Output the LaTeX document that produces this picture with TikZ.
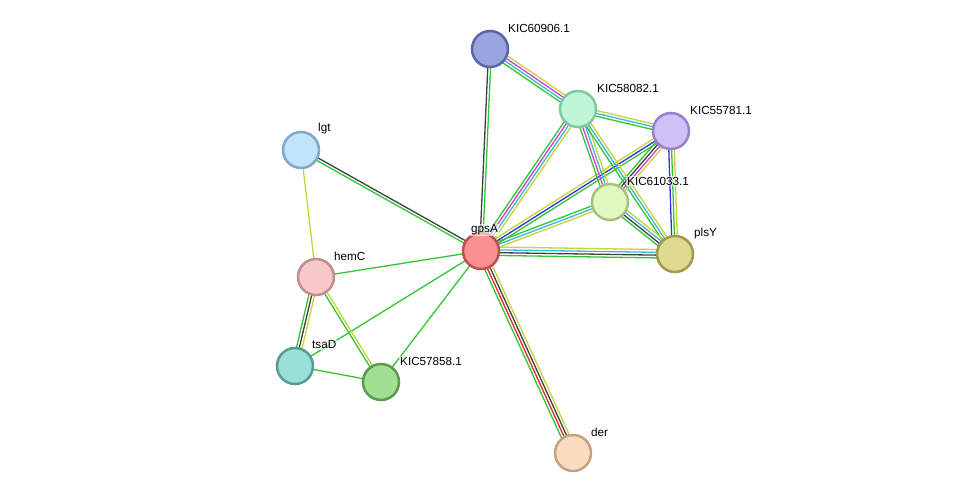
\documentclass[tikz,border=0pt]{standalone}
\usepackage{fontspec}
\setmainfont{Liberation Sans}
\usetikzlibrary{calc}
\definecolor{cG}{HTML}{33C633}
\definecolor{cY}{HTML}{C4D43A}
\definecolor{cC}{HTML}{3CB8D8}
\definecolor{cM}{HTML}{D83CD8}
\definecolor{cB}{HTML}{3030E8}
\definecolor{cK}{HTML}{404040}
\definecolor{cR}{HTML}{E82828}
\newcommand\mE[4]{\foreach \cc [count=\ii] in {#3} {
  \pgfmathsetmacro\oo{(\ii-(#4+1)/2)*2.8}
  \draw[\cc, line width=1.3pt] ($(#1)!\oo pt!90:(#2)$) -- ($(#2)!\oo pt!-90:(#1)$);}}
\tikzset{nd/.style={circle, minimum size=36pt, inner sep=0pt, line width=2.5pt},
 lb/.style={anchor=west, font=\fontsize{11.7}{13}\selectfont, inner sep=1pt, fill=white, fill opacity=0.6, text opacity=1}}
\begin{document}
\begin{tikzpicture}[x=1pt,y=-1pt]
\useasboundingbox[fill=white] (0,0) rectangle (975,499);
\coordinate (A) at (490,49);
\coordinate (B) at (578,109);
\coordinate (C) at (671,131);
\coordinate (L) at (301,150);
\coordinate (D) at (610,202);
\coordinate (G) at (481,251);
\coordinate (P) at (675,254);
\coordinate (H) at (316,277);
\coordinate (T) at (295,366);
\coordinate (K) at (381,382);
\coordinate (R) at (573,453);
\mE{G}{A}{cG,cK}{2}
\mE{A}{B}{cG,cC,cM,cY}{4}
\mE{G}{B}{cY,cC,cM,cG}{4}
\mE{G}{C}{cG,cB,cY}{3}
\mE{G}{D}{cY,cC,cG}{3}
\mE{G}{P}{cG,cK,cC,cY}{4}
\mE{B}{C}{cG,cC,cY}{3}
\mE{B}{D}{cG,cM,cC,cY}{4}
\mE{B}{P}{cG,cC,cY}{3}
\mE{C}{D}{cG,cK,cM,cY}{4}
\mE{C}{P}{cB,cG,cY}{3}
\mE{D}{P}{cG,cK,cC,cY}{4}
\mE{G}{L}{cK,cG}{2}
\mE{G}{H}{cG}{1}
\mE{G}{T}{cG}{1}
\mE{G}{K}{cG}{1}
\mE{G}{R}{cG,cR,cK,cY}{4}
\mE{L}{H}{cY}{1}
\mE{H}{T}{cG,cK,cY}{3}
\mE{H}{K}{cG,cY}{2}
\mE{T}{K}{cG}{1}
\node[nd,fill={rgb,255:red,154;green,165;blue,224},draw={rgb,255:red,90;green,102;blue,168}] (nA) at (A) {};
\node[nd,fill={rgb,255:red,192;green,245;blue,216},draw={rgb,255:red,128;green,200;blue,160}] (nB) at (B) {};
\node[nd,fill={rgb,255:red,208;green,192;blue,248},draw={rgb,255:red,154;green,128;blue,200}] (nC) at (C) {};
\node[nd,fill={rgb,255:red,192;green,228;blue,248},draw={rgb,255:red,128;green,168;blue,200}] (nL) at (L) {};
\node[nd,fill={rgb,255:red,224;green,248;blue,192},draw={rgb,255:red,168;green,192;blue,128}] (nD) at (D) {};
\node[nd,fill={rgb,255:red,248;green,144;blue,144},draw={rgb,255:red,192;green,80;blue,80}] (nG) at (G) {};
\node[nd,fill={rgb,255:red,224;green,218;blue,144},draw={rgb,255:red,160;green,154;blue,80}] (nP) at (P) {};
\node[nd,fill={rgb,255:red,248;green,200;blue,200},draw={rgb,255:red,192;green,144;blue,144}] (nH) at (H) {};
\node[nd,fill={rgb,255:red,152;green,224;blue,216},draw={rgb,255:red,88;green,154;blue,148}] (nT) at (T) {};
\node[nd,fill={rgb,255:red,160;green,224;blue,144},draw={rgb,255:red,92;green,154;blue,80}] (nK) at (K) {};
\node[nd,fill={rgb,255:red,252;green,220;blue,192},draw={rgb,255:red,200;green,160;blue,128}] (nR) at (R) {};
\node[lb] at (507,28) {KIC60906.1};
\node[lb] at (596,88) {KIC58082.1};
\node[lb] at (689,110) {KIC55781.1};
\node[lb] at (317,128) {lgt};
\node[lb] at (626,181) {KIC61033.1};
\node[lb] at (470,230) {gpsA};
\node[lb] at (693,233) {plsY};
\node[lb] at (333,256) {hemC};
\node[lb] at (311,345) {tsaD};
\node[lb] at (399,361) {KIC57858.1};
\node[lb] at (590,432) {der};
\end{tikzpicture}
\end{document}
